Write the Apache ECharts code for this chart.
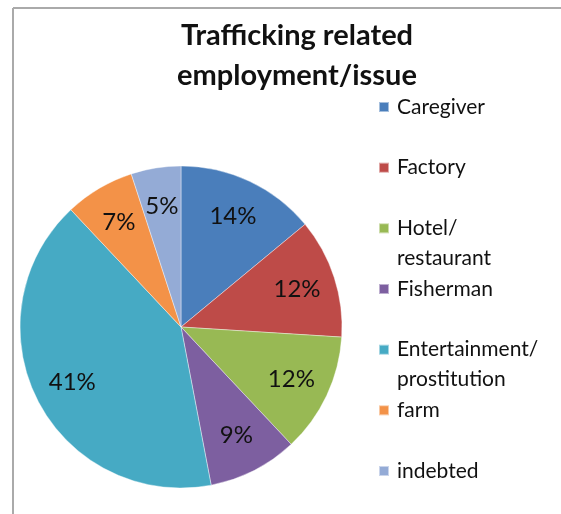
<!DOCTYPE html>
<html><head><meta charset="utf-8">
<script src="https://cdn.jsdelivr.net/npm/echarts@6/dist/echarts.min.js"></script>
<style>html,body{margin:0;padding:0;background:#fff}#c{width:561px;height:514px}</style>
</head><body><div id="c"></div>
<script>
const categories = ['Caregiver','Factory','Hotel/\nrestaurant','Fisherman','Entertainment/\nprostitution','farm','indebted'];
const values = [14, 12, 12, 9, 41, 7, 5];
const colors = ['#4A7EBB','#BE4B48','#98B954','#7D5FA0','#46AAC4','#F39248','#94ABD6'];
const titleText = 'Trafficking related\nemployment/issue';

const data = categories.map((n, i) => ({ name: n, value: values[i], itemStyle: { color: colors[i] } }));
const chart = echarts.init(document.getElementById('c'));
const font = 'Lato, "Open Sans", sans-serif';
chart.setOption({
  animation: false,
  title: {
    text: titleText, left: 292, top: 11, textAlign: 'center',
    textStyle: { fontFamily: font, fontSize: 29, fontWeight: 'bold', color: '#111', lineHeight: 40 }
  },
  legend: {
    orient: 'vertical', left: 378, top: 62, height: 500, padding: 0, itemGap: -29.33,
    itemWidth: 10, itemHeight: 10, icon: 'rect',
    data: categories,
    formatter: n => ' \n' + (n.indexOf('\n') >= 0 ? n : n + '\n '),
    textStyle: { fontFamily: font, fontSize: 21, color: '#111', lineHeight: 30, padding: [0, 0, 0, 3] }
  },
  graphic: [
    { type: 'line', shape: { x1: 13, y1: 8, x2: 561, y2: 8 }, style: { stroke: '#aaa', lineWidth: 2 } },
    { type: 'line', shape: { x1: 13, y1: 8, x2: 13, y2: 514 }, style: { stroke: '#aaa', lineWidth: 2 } }
  ],
  series: [
    {
      type: 'pie', center: [181, 327], radius: [0, 161], startAngle: 90, clockwise: true,
      data: data, label: { show: false }, labelLine: { show: false },
      itemStyle: { borderColor: 'rgba(255,255,255,0.5)', borderWidth: 0.8 }
    },
    {
      type: 'pie', center: [181, 327], radius: [100, 138], startAngle: 90, clockwise: true, silent: true,
      legendHoverLink: false,
      data: categories.map((n, i) => ({ name: n, value: values[i] })),
      itemStyle: { color: 'rgba(0,0,0,0)' },
      label: { show: true, position: 'inside', formatter: p => p.value + '%', fontFamily: font, fontSize: 24, color: '#111' },
      labelLine: { show: false }
    }
  ]
});
</script></body></html>
